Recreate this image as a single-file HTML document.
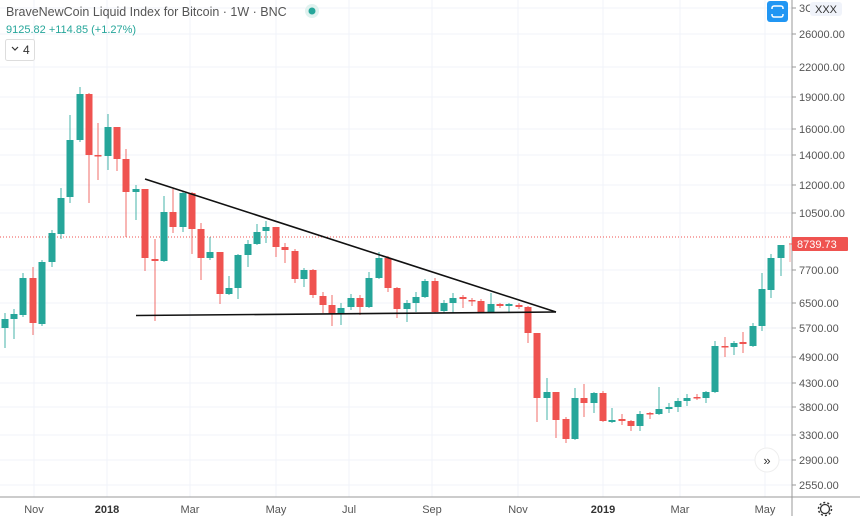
<!DOCTYPE html>
<html><head><meta charset="utf-8"><style>
body{margin:0;background:#fff;width:860px;height:525px;overflow:hidden;font-family:"Liberation Sans",sans-serif}
svg{position:absolute;left:0;top:0}
</style></head><body>
<svg id="s" width="860" height="525" xmlns="http://www.w3.org/2000/svg" font-family="Liberation Sans, sans-serif"></svg>
<script>
var s=document.getElementById('s'),h='';
var G='#26a69a',R='#ef5350',GR='#f0f3fa';
// horizontal grid + price labels
var ticks=[[8,'30000.00'],[34,'26000.00'],[67,'22000.00'],[97,'19000.00'],[129,'16000.00'],[155,'14000.00'],[185,'12000.00'],[213,'10500.00'],[270,'7700.00'],[303,'6500.00'],[328,'5700.00'],[357,'4900.00'],[383,'4300.00'],[407,'3800.00'],[435,'3300.00'],[460,'2900.00'],[485,'2550.00']];
ticks.forEach(function(t){h+='<line x1="0" x2="792" y1="'+t[0]+'" y2="'+t[0]+'" stroke="'+GR+'" stroke-width="1"/>';
h+='<line x1="792" x2="796" y1="'+t[0]+'" y2="'+t[0]+'" stroke="#999"/>';
if(t[0]>10)h+='<text x="799" y="'+(t[0]+4)+'" font-size="11" fill="#555">'+t[1]+'</text>';});
var months=[[34,'Nov',0],[107,'2018',1],[190,'Mar',0],[276,'May',0],[349,'Jul',0],[432,'Sep',0],[518,'Nov',0],[603,'2019',1],[680,'Mar',0],[765,'May',0]];
months.forEach(function(m){h+='<line x1="'+m[0]+'" x2="'+m[0]+'" y1="0" y2="497" stroke="'+GR+'"/>';
h+='<text x="'+m[0]+'" y="513" font-size="11" text-anchor="middle" fill="'+(m[2]?'#333':'#555')+'" font-weight="'+(m[2]?'bold':'normal')+'">'+m[1]+'</text>';});
// red dotted price line
h+='<line x1="0" x2="792" y1="237" y2="237" stroke="#ef5350" stroke-width="1" stroke-dasharray="1,2"/>';
// candles: [x,o,c,hi,lo,col]
var c=[
[5,328,319,313,348,G],[14,319,314,309,339,G],[23,315,278,273,317,G],[33,278,323,267,335,R],[42,324,262,260,326,G],[52,262,233,230,267,G],[61,234,198,188,239,G],[70,197,140,115,203,G],[80,140,94,87,142,G],[89,94,155,93,203,R],[98,155,156,123,180,R],[108,156,127,114,170,G],[117,127,159,127,171,R],[126,159,192,149,237,R],[136,192,189,185,220,G],[145,189,258,189,271,R],[155,259,261,239,321,R],[164,261,212,196,262,G],[173,212,227,189,233,R],[183,227,193,192,232,G],[192,193,229,192,254,R],[201,229,258,223,280,R],[210,258,252,237,260,G],[220,252,294,252,304,R],[229,294,288,276,295,G],[238,288,255,254,299,G],[248,255,244,240,267,G],[257,244,232,224,245,G],[266,231,227,221,243,G],[276,227,247,227,257,R],[285,247,250,243,263,R],
[295,251,279,249,283,R],[304,279,270,268,287,G],[313,270,295,269,298,R],[323,296,305,292,313,R],[332,305,314,295,326,R],[341,314,308,303,325,G],[351,307,298,294,310,G],[360,298,307,295,315,R],[369,307,278,272,308,G],[379,278,258,252,279,G],[388,258,288,256,292,R],[397,288,309,287,318,R],[407,309,303,300,322,G],[416,303,297,292,312,G],[425,297,281,279,298,G],[435,281,312,278,313,R],[444,311,303,300,313,G],[453,303,298,293,313,G],[463,297,299,295,308,R],[472,300,301,298,306,R],[481,301,312,299,313,R],[491,312,304,293,313,G],[500,304,306,303,308,R],[509,306,304,303,312,G],[519,305,307,303,309,R],[528,307,333,306,343,R],[537,333,398,333,422,R],[547,398,392,378,420,G],[556,392,420,392,438,R],[566,419,439,417,443,R],
[575,439,398,388,440,G],[584,398,403,384,417,R],[594,403,393,392,413,G],[603,393,421,391,422,R],[612,422,420,408,423,G],[622,419,421,414,425,R],[631,421,426,420,431,R],[640,426,414,411,431,G],[650,413,414,412,419,R],[659,414,409,387,415,G],[669,409,407,403,413,G],[678,407,401,398,412,G],[687,401,398,394,406,G],[697,397,398,394,400,R],[706,398,392,391,403,G],[715,392,346,341,393,G],[725,346,347,337,357,R],[734,347,343,341,355,G],[743,342,344,332,353,R],[753,346,326,323,347,G],[762,326,289,273,331,G],[771,290,258,254,298,G],[781,258,245,245,276,G]];
c.forEach(function(d){var x=d[0],t=Math.min(d[1],d[2]),b=Math.max(d[1],d[2]);if(b-t<1.5)b=t+1.5;
h+='<line x1="'+x+'" x2="'+x+'" y1="'+d[3]+'" y2="'+d[4]+'" stroke="'+d[5]+'" stroke-width="1" opacity="0.85"/>';
h+='<rect x="'+(x-3.5)+'" y="'+t+'" width="7" height="'+(b-t)+'" fill="'+d[5]+'"/>';});
h+='<line x1="790" x2="790" y1="245" y2="262" stroke="#ef5350" opacity="0.5"/>';
// trend lines
h+='<line x1="145" y1="179" x2="556" y2="312" stroke="#111" stroke-width="1.6"/>';
h+='<line x1="136" y1="315.5" x2="556" y2="312" stroke="#111" stroke-width="1.6"/>';
// axes
h+='<line x1="792" x2="792" y1="0" y2="516" stroke="#999"/>';
h+='<line x1="0" x2="860" y1="497" y2="497" stroke="#999"/>';
h+='<rect x="792" y="237" width="56" height="14" rx="1" fill="#ef5350"/><text x="797" y="248" font-size="11" fill="#fff">8739.73</text>';
h+='<line x1="789" x2="792" y1="244" y2="244" stroke="#ef5350"/>';
h+='<text x="799" y="12" font-size="11" fill="#555">3C</text><rect x="810" y="2" width="32" height="14" rx="3" fill="#f0f3fa"/><text x="815" y="13" font-size="11" fill="#333">XXX</text>';
// header
h+='<text x="6" y="16" font-size="12.5" fill="#555">BraveNewCoin Liquid Index for Bitcoin · 1W · BNC</text>';
h+='<circle cx="312" cy="11" r="7" fill="#e0f2ef"/><circle cx="312" cy="11" r="3.5" fill="'+G+'"/>';
h+='<text x="6" y="33" font-size="11" fill="'+G+'">9125.82 +114.85 (+1.27%)</text>';
h+='<rect x="5.5" y="39.5" width="29" height="21" rx="2" fill="#fff" stroke="#ddd"/><path d="M12 47 l3 3 l3 -3" fill="none" stroke="#333" stroke-width="1.2"/><text x="23" y="54" font-size="12" fill="#333">4</text>';
// blue button
h+='<rect x="767" y="1" width="21" height="21" rx="3" fill="#2196f3"/><rect x="772" y="6" width="11" height="11" rx="2" fill="none" stroke="#fff" stroke-width="1.5"/><rect x="770" y="9" width="15" height="5" fill="#2196f3"/>';
// >> button
h+='<circle cx="767" cy="460" r="12" fill="#fff" stroke="#eee"/><text x="767" y="465" font-size="13" text-anchor="middle" fill="#333">»</text>';
// gear
h+='<circle cx="825" cy="509" r="4.5" fill="none" stroke="#333" stroke-width="1.3"/><circle cx="825" cy="509" r="6.5" fill="none" stroke="#333" stroke-width="1.5" stroke-dasharray="2,2.1"/>';
s.innerHTML=h;
</script>
</body></html>
